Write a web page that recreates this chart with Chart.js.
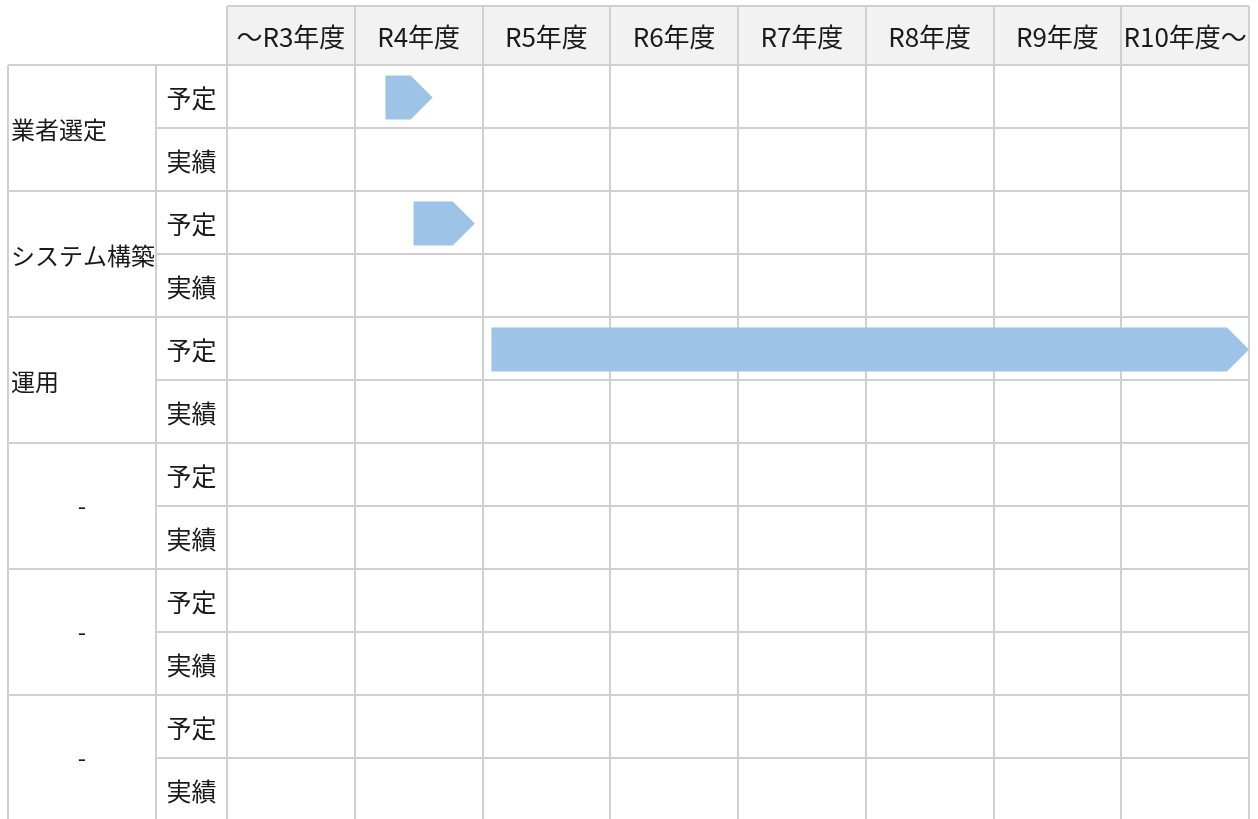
<!DOCTYPE html>
<html lang="ja">
<head>
<meta charset="utf-8">
<title>スケジュール</title>
<script src="https://cdn.jsdelivr.net/npm/chart.js@4.4.0/dist/chart.umd.min.js"></script>
<style>
  html, body { margin: 0; padding: 0; background: #fff; overflow: hidden; }
  #wrap { width: 1258px; height: 819px; overflow: hidden; }
</style>
</head>
<body>
<div id="wrap"><canvas id="gantt" width="1258" height="830"></canvas></div>
<script>
// 年度（列）
const periods = ['〜R3年度', 'R4年度', 'R5年度', 'R6年度', 'R7年度', 'R8年度', 'R9年度', 'R10年度〜'];
// 項目
const tasks = ['業者選定', 'システム構築', '運用', '-', '-', '-'];
const kinds = ['予定', '実績'];
// 予定の開始・終了（列単位、0 = 〜R3年度の左端）
const planStart = [1.24, 1.46, 2.07, null, null, null];
const planEnd   = [1.61, 1.94, 8.0, null, null, null];
// 実績（なし）
const actualStart = [null, null, null, null, null, null];
const actualEnd   = [null, null, null, null, null, null];

const FONT = '"Noto Sans CJK JP", "Noto Sans", sans-serif';
const LINE = '#d0d0d0';
const ARROW = '#9dc3e6';

// 行ラベル（予定・実績 × 項目）
const rows = [];
const planData = [];
const actualData = [];
tasks.forEach((t, i) => {
  rows.push(t + ' ' + kinds[0]);
  rows.push(t + ' ' + kinds[1]);
  planData.push(planStart[i] === null ? null : [planStart[i], planEnd[i]]);
  planData.push(null);
  actualData.push(null);
  actualData.push(actualStart[i] === null ? null : [actualStart[i], actualEnd[i]]);
});

// 表の枠・見出し
const tablePlugin = {
  id: 'table',
  beforeDatasetsDraw(chart) {
    const ctx = chart.ctx;
    const x = chart.scales.x;
    const y = chart.scales.y;
    const area = chart.chartArea;
    const rowH = y.getPixelForValue(1) - y.getPixelForValue(0);
    const headTop = 6;
    const col0 = 8, col1 = 156;

    ctx.save();
    // 見出しの背景
    ctx.fillStyle = '#f2f2f2';
    ctx.fillRect(area.left, headTop, area.right - area.left, area.top - headTop);

    ctx.fillStyle = '#1a1a1a';
    ctx.textBaseline = 'middle';
    ctx.textAlign = 'center';
    ctx.font = '26px ' + FONT;
    periods.forEach((p, i) => {
      const cx = (x.getPixelForValue(i) + x.getPixelForValue(i + 1)) / 2;
      ctx.fillText(p, cx, (headTop + area.top) / 2 + 2);
    });

    // 左側のラベル
    tasks.forEach((t, i) => {
      const top = y.getPixelForValue(2 * i) - rowH / 2;
      const cy = top + rowH;
      ctx.font = '24px ' + FONT;
      if (t === '-') {
        ctx.textAlign = 'center';
        ctx.fillText(t, (col0 + col1) / 2, cy);
      } else {
        ctx.textAlign = 'left';
        ctx.fillText(t, col0 + 3, cy + 2);
      }
      ctx.font = '25px ' + FONT;
      ctx.textAlign = 'center';
      kinds.forEach((k, j) => {
        ctx.fillText(k, (col1 + area.left) / 2, y.getPixelForValue(2 * i + j) + 2);
      });
    });

    // 罫線
    ctx.strokeStyle = LINE;
    ctx.lineWidth = 2;
    ctx.beginPath();
    ctx.moveTo(area.left, headTop);
    ctx.lineTo(area.right, headTop);
    for (let i = 0; i <= periods.length; i++) {
      const px = Math.round(x.getPixelForValue(i));
      ctx.moveTo(px, headTop);
      ctx.lineTo(px, area.bottom);
    }
    rows.forEach((r, i) => {
      const py = Math.round(y.getPixelForValue(i) - rowH / 2);
      ctx.moveTo(i % 2 === 0 ? col0 : col1, py);
      ctx.lineTo(area.right, py);
    });
    ctx.moveTo(col0, area.top);
    ctx.lineTo(col0, area.bottom);
    ctx.moveTo(col1, area.top);
    ctx.lineTo(col1, area.bottom);
    ctx.stroke();
    ctx.restore();
  },
  // 矢印の形で描く
  afterDatasetsDraw(chart) {
    const ctx = chart.ctx;
    ctx.save();
    chart.data.datasets.forEach((ds, di) => {
      const meta = chart.getDatasetMeta(di);
      meta.data.forEach((bar, i) => {
        if (!ds.data[i]) return;
        const { x, y, base, height } = bar.getProps(['x', 'y', 'base', 'height'], true);
        const left = Math.min(x, base), right = Math.max(x, base);
        const h = height / 2;
        const cy = y + 1;
        ctx.fillStyle = ds.arrowColor;
        ctx.beginPath();
        ctx.moveTo(left, cy - h);
        ctx.lineTo(right - h, cy - h);
        ctx.lineTo(right, cy);
        ctx.lineTo(right - h, cy + h);
        ctx.lineTo(left, cy + h);
        ctx.closePath();
        ctx.fill();
      });
    });
    ctx.restore();
  }
};

new Chart(document.getElementById('gantt'), {
  type: 'bar',
  data: {
    labels: rows,
    datasets: [
      {
        label: '予定',
        data: planData,
        backgroundColor: 'rgba(0,0,0,0)',
        arrowColor: ARROW,
        barThickness: 44,
        grouped: false
      },
      {
        label: '実績',
        data: actualData,
        backgroundColor: 'rgba(0,0,0,0)',
        arrowColor: '#f4b183',
        barThickness: 44,
        grouped: false
      }
    ]
  },
  options: {
    indexAxis: 'y',
    responsive: false,
    animation: false,
    layout: { padding: { left: 227, top: 65, right: 9, bottom: 9 } },
    plugins: {
      legend: { display: false },
      tooltip: { enabled: false }
    },
    scales: {
      x: { type: 'linear', min: 0, max: periods.length, display: false },
      y: { type: 'category', offset: true, display: false }
    }
  },
  plugins: [tablePlugin]
});
</script>
</body>
</html>
